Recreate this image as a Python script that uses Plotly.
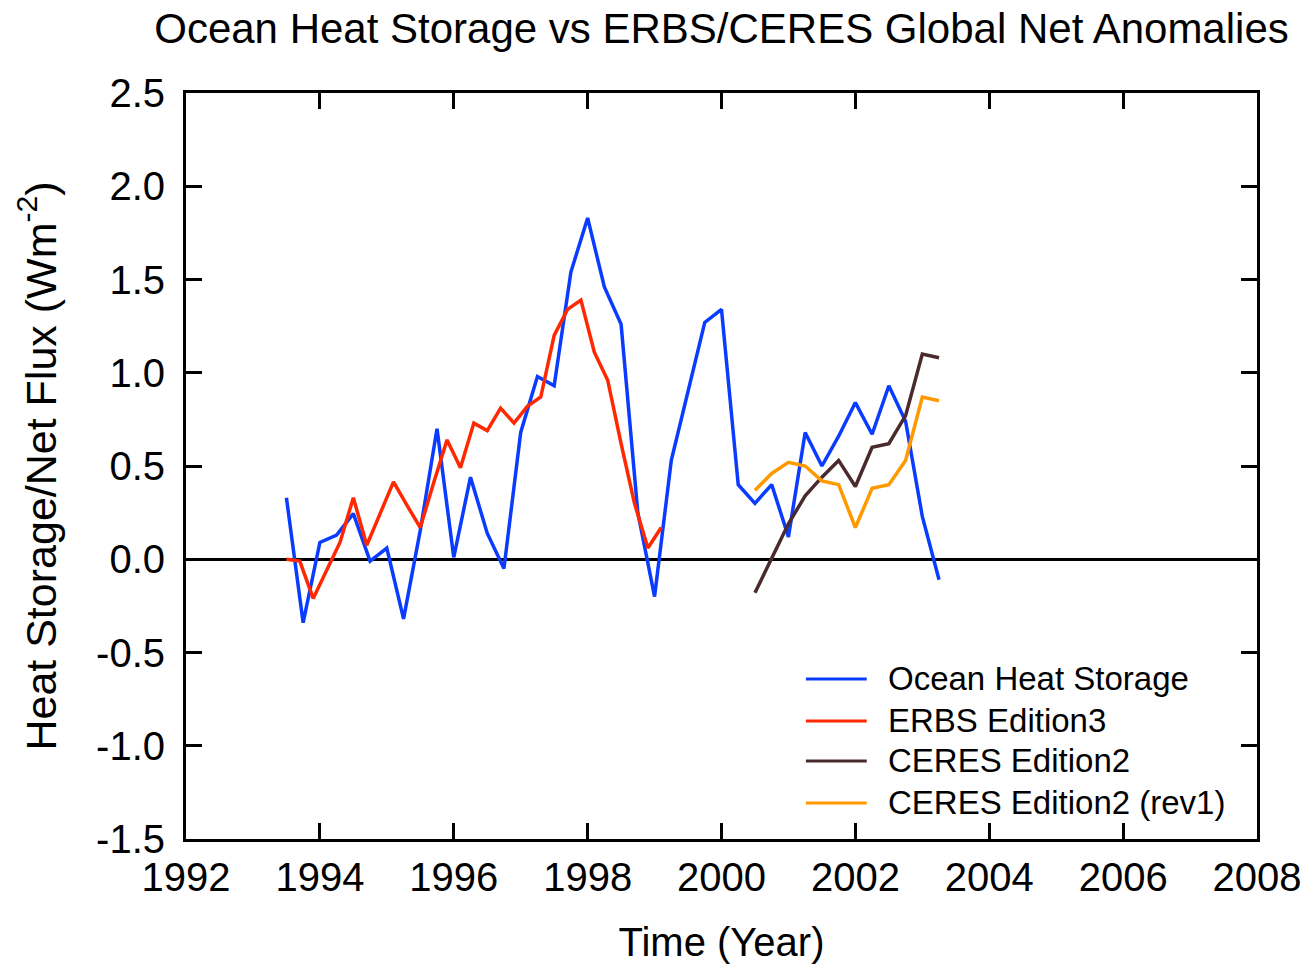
import plotly.graph_objects as go

# Ocean heat storage (quarterly)
ohs_year = [1993.50, 1993.75, 1994.00, 1994.25, 1994.50, 1994.75, 1995.00, 1995.25,
            1995.50, 1995.75, 1996.00, 1996.25, 1996.50, 1996.75, 1997.00, 1997.25,
            1997.50, 1997.75, 1998.00, 1998.25, 1998.50, 1998.75, 1999.00, 1999.25,
            1999.50, 1999.75, 2000.00, 2000.25, 2000.50, 2000.75, 2001.00, 2001.25,
            2001.50, 2001.75, 2002.00, 2002.25, 2002.50, 2002.75, 2003.00, 2003.25]
ohs_val = [0.33, -0.34, 0.09, 0.13, 0.245, -0.01, 0.06, -0.32,
           0.155, 0.70, 0.01, 0.44, 0.14, -0.05, 0.68, 0.98,
           0.93, 1.54, 1.83, 1.46, 1.26, 0.25, -0.20, 0.53,
           0.90, 1.27, 1.34, 0.40, 0.30, 0.40, 0.12, 0.68,
           0.50, 0.66, 0.84, 0.67, 0.93, 0.74, 0.23, -0.11]

# ERBS Edition3 (72-day means)
erbs_year = [1993.5, 1993.7, 1993.9, 1994.1, 1994.3, 1994.5, 1994.7, 1994.9,
             1995.1, 1995.3, 1995.5, 1995.7, 1995.9, 1996.1, 1996.3, 1996.5,
             1996.7, 1996.9, 1997.1, 1997.3, 1997.5, 1997.7, 1997.9, 1998.1,
             1998.3, 1998.5, 1998.7, 1998.9, 1999.1]
erbs_val = [0.00, -0.01, -0.21, -0.06, 0.09, 0.33, 0.075, 0.245,
            0.415, 0.29, 0.17, 0.41, 0.64, 0.49, 0.73, 0.69,
            0.81, 0.73, 0.82, 0.87, 1.20, 1.34, 1.39, 1.11,
            0.96, 0.62, 0.30, 0.06, 0.17]

# CERES Edition2 and Edition2 (rev1)
ceres_year = [2000.50, 2000.75, 2001.00, 2001.25, 2001.50, 2001.75,
              2002.00, 2002.25, 2002.50, 2002.75, 2003.00, 2003.25]
ceres_ed2 = [-0.18, 0.00, 0.19, 0.34, 0.44, 0.53, 0.39, 0.60, 0.62, 0.77, 1.10, 1.08]
ceres_rev1 = [0.37, 0.46, 0.52, 0.50, 0.42, 0.40, 0.17, 0.38, 0.40, 0.53, 0.87, 0.85]

x_ticks = [1992, 1994, 1996, 1998, 2000, 2002, 2004, 2006, 2008]
y_ticks = [2.5, 2.0, 1.5, 1.0, 0.5, 0.0, -0.5, -1.0, -1.5]

series = [
    ("Ocean Heat Storage", ohs_year, ohs_val, "#0a3cff"),
    ("ERBS Edition3", erbs_year, erbs_val, "#ff2800"),
    ("CERES Edition2", ceres_year, ceres_ed2, "#4b2a2e"),
    ("CERES Edition2 (rev1)", ceres_year, ceres_rev1, "#ff9900"),
]

FONT = "Liberation Sans, Arial, sans-serif"

fig = go.Figure()
for name, xs, ys, color in series:
    fig.add_trace(go.Scatter(x=xs, y=ys, name=name, mode="lines",
                             line=dict(color=color, width=3.5), showlegend=False))

# Hand-drawn legend: long line keys with labels, lower right of the plot
legend_y = [0.2145, 0.1582, 0.1046, 0.0483]
shapes = []
annotations = []
for (name, _, _, color), ly in zip(series, legend_y):
    shapes.append(dict(type="line", xref="paper", yref="paper",
                       x0=0.5788, x1=0.6356, y0=ly, y1=ly,
                       line=dict(color=color, width=3)))
    annotations.append(dict(xref="paper", yref="paper", x=0.6533, y=ly,
                            xanchor="left", yanchor="middle", showarrow=False,
                            text=name, font=dict(family=FONT, size=33, color="black")))

axis_common = dict(
    showline=True, linecolor="black", linewidth=3, mirror="ticks",
    ticks="inside", ticklen=16, tickwidth=3, tickcolor="black",
    showgrid=False, automargin=False,
    tickfont=dict(family=FONT, size=40, color="black"),
)

fig.update_layout(
    width=1310, height=964,
    margin=dict(l=186, r=53, t=93, b=125),
    paper_bgcolor="white", plot_bgcolor="white",
    font=dict(family=FONT, color="black"),
    title=dict(text="Ocean Heat Storage vs ERBS/CERES Global Net Anomalies",
               x=0.5, xref="paper", xanchor="center",
               y=0.971, yref="container", yanchor="middle",
               font=dict(family=FONT, size=42, color="black"),
               automargin=False),
    xaxis=dict(range=[1992, 2008], tickvals=x_ticks, ticktext=[str(v) for v in x_ticks],
               zeroline=False, ticklabelstandoff=1,
               title=dict(text="Time (Year)", font=dict(family=FONT, size=40), standoff=32),
               **axis_common),
    yaxis=dict(range=[-1.5, 2.5], tickvals=y_ticks, ticktext=[f"{v:.1f}" for v in y_ticks],
               zeroline=True, zerolinecolor="black", zerolinewidth=3,
               ticklabelstandoff=10,
               title=dict(text="Heat Storage/Net Flux (Wm<sup>-2</sup>)",
                          font=dict(family=FONT, size=43), standoff=27),
               **axis_common),
    shapes=shapes,
    annotations=annotations,
)

fig.write_html("out.html")
